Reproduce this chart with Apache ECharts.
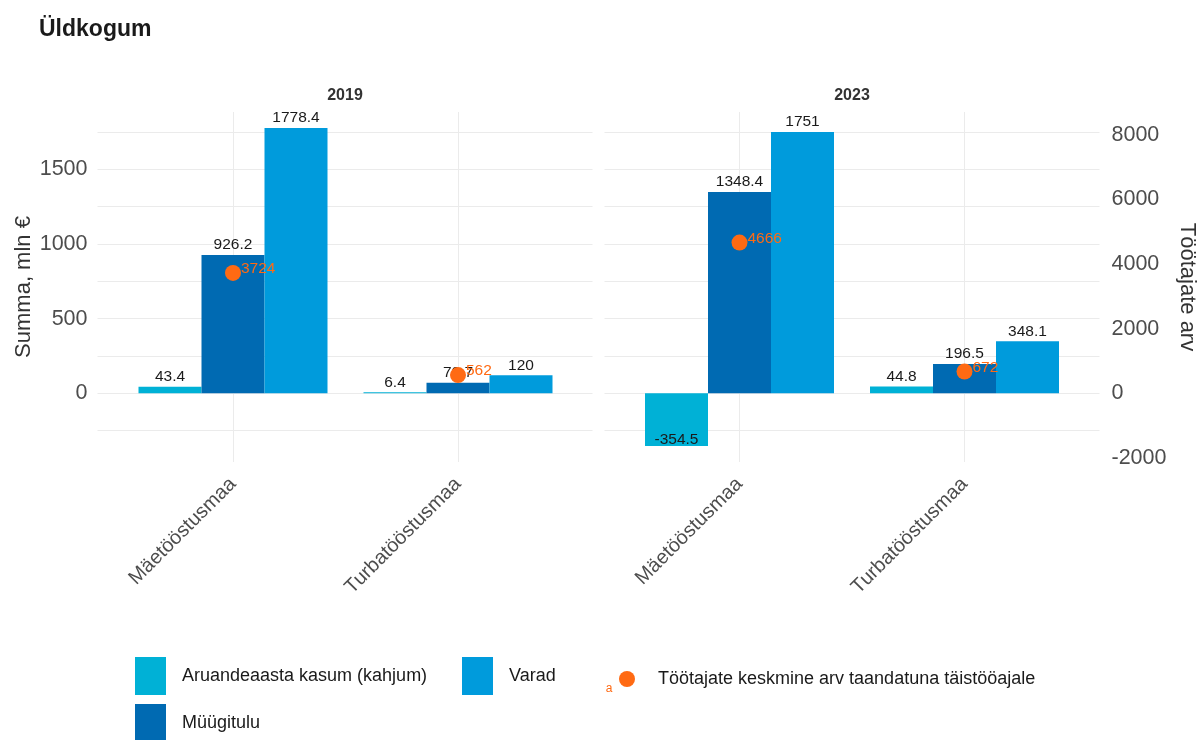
<!DOCTYPE html>
<html><head><meta charset="utf-8">
<script src="https://cdn.jsdelivr.net/npm/echarts@6/dist/echarts.min.js"></script>
<style>html,body{margin:0;padding:0;background:#fff}#c{width:1200px;height:740px}</style>
</head><body><div id="c"></div>
<script>
const categories = ['Mäetööstusmaa', 'Turbatööstusmaa'];
const years = ['2019', '2023'];
const kasum2019 = [43.4, 6.4];
const myygitulu2019 = [926.2, 70.7];
const varad2019 = [1778.4, 120];
const tootajad2019 = [3724, 562];
const kasum2023 = [-354.5, 44.8];
const myygitulu2023 = [1348.4, 196.5];
const varad2023 = [1751, 348.1];
const tootajad2023 = [4666, 672];
const leftTicks = [0, 500, 1000, 1500];
const rightTicks = [-2000, 0, 2000, 4000, 6000, 8000];
const gridValues = [-250, 0, 250, 500, 750, 1000, 1250, 1500, 1750];

const NAMES = ['Aruandeaasta kasum (kahjum)', 'Müügitulu', 'Varad', 'Töötajate keskmine arv taandatuna täistööajale'];
const COLORS = ['#00b1d6', '#006ab2', '#009bdc', '#ff6a13'];
const FONT = 'Liberation Sans, Arial, sans-serif';

const leftMin = -461.1, leftMax = 1885.05, factor = 4.62;
const rightMin = leftMin * factor, rightMax = leftMax * factor;

const yearData = [
  {kasum: kasum2019, myyk: myygitulu2019, varad: varad2019, tootajad: tootajad2019},
  {kasum: kasum2023, myyk: myygitulu2023, varad: varad2023, tootajad: tootajad2023}
];

const TOP = 112, H = 350;
const grids = [
  {left: 97.5, top: TOP, width: 495, height: H},    // background panel 2019
  {left: 604.5, top: TOP, width: 495, height: H},   // background panel 2023
  {left: 120.5, top: TOP, width: 450, height: H},   // data panel 2019
  {left: 627, top: TOP, width: 450, height: H}      // data panel 2023
];

const hiddenAxis = {axisLine: {show: false}, axisTick: {show: false}, splitLine: {show: false}, axisLabel: {show: false}};

const xAxes = [
  Object.assign({type: 'value', gridIndex: 0, min: 0, max: 1}, hiddenAxis),
  Object.assign({type: 'value', gridIndex: 1, min: 0, max: 1}, hiddenAxis),
  {type: 'category', gridIndex: 2, data: categories, axisLine: {show: false}, axisTick: {show: false}, splitLine: {show: false},
    axisLabel: {rotate: 45, interval: 0, fontSize: 20, color: '#4d4d4d', fontFamily: FONT, margin: 19}},
  {type: 'category', gridIndex: 3, data: categories, axisLine: {show: false}, axisTick: {show: false}, splitLine: {show: false},
    axisLabel: {rotate: 45, interval: 0, fontSize: 20, color: '#4d4d4d', fontFamily: FONT, margin: 19}}
];

const yAxes = [
  {type: 'value', gridIndex: 0, position: 'left', min: leftMin, max: leftMax,
    axisLine: {show: false}, axisTick: {show: false}, splitLine: {show: false},
    axisLabel: {fontSize: 21.5, color: '#4d4d4d', fontFamily: FONT, margin: 10,
      formatter: v => leftTicks.some(t => Math.abs(t - v) < 1e-6) ? String(Math.round(v)) : ''},
    name: 'Summa, mln €', nameLocation: 'middle', nameGap: 63, nameRotate: 90,
    nameTextStyle: {fontSize: 22, color: '#333', fontFamily: FONT}},
  Object.assign({type: 'value', gridIndex: 1, position: 'left', min: leftMin, max: leftMax}, hiddenAxis),
  {type: 'value', gridIndex: 1, position: 'right', min: rightMin, max: rightMax,
    axisLine: {show: false}, axisTick: {show: false}, splitLine: {show: false},
    axisLabel: {fontSize: 21.5, color: '#4d4d4d', fontFamily: FONT, margin: 12,
      formatter: v => rightTicks.some(t => Math.abs(t - v) < 1e-6) ? String(Math.round(v)) : ''},
    name: 'Töötajate arv', nameLocation: 'middle', nameGap: 77, nameRotate: -90,
    nameTextStyle: {fontSize: 22, color: '#333', fontFamily: FONT}},
  Object.assign({type: 'value', gridIndex: 2, position: 'left', min: leftMin, max: leftMax}, hiddenAxis),
  Object.assign({type: 'value', gridIndex: 2, position: 'right', min: rightMin, max: rightMax}, hiddenAxis),
  Object.assign({type: 'value', gridIndex: 3, position: 'left', min: leftMin, max: leftMax}, hiddenAxis),
  Object.assign({type: 'value', gridIndex: 3, position: 'right', min: rightMin, max: rightMax}, hiddenAxis)
];

const gridLineStyle = {color: '#ebebeb', width: 1, type: 'solid'};
const mlBase = {silent: true, z: 1, symbol: ['none', 'none'], label: {show: false}, lineStyle: gridLineStyle, emphasis: {disabled: true}, animation: false};

const series = [];
[0, 1].forEach(i => {
  series.push({
    type: 'line', name: 'bg' + i, xAxisIndex: i, yAxisIndex: i, data: [], silent: true, z: 1,
    markLine: Object.assign({}, mlBase, {data: gridValues.map(v => ({yAxis: v}))})
  });
});

yearData.forEach((d, i) => {
  const xi = 2 + i, yl = 3 + i * 2, yr = 4 + i * 2;
  const barLabel = {show: true, position: 'top', distance: 2, fontSize: 15.5, color: '#1a1a1a', fontFamily: FONT};
  const mk = arr => arr.map(v => v < 0 ? {value: v, label: {position: 'insideBottom', distance: 0, offset: [0, 2]}} : v);
  const bars = [d.kasum, d.myyk, d.varad];
  bars.forEach((arr, k) => {
    series.push({
      type: 'bar', name: NAMES[k], xAxisIndex: xi, yAxisIndex: yl, data: mk(arr),
      itemStyle: {color: COLORS[k]}, label: barLabel, barGap: '0%', barCategoryGap: '16%', z: 2
    });
  });
  series.push({
    type: 'scatter', name: NAMES[3], xAxisIndex: xi, yAxisIndex: yr, data: d.tootajad,
    symbolSize: 16, z: 5, itemStyle: {color: COLORS[3], opacity: 1},
    label: {show: true, position: 'right', distance: 0, offset: [0, -4], fontSize: 15.5,
      color: COLORS[3], fontFamily: FONT, formatter: p => p.value},
    markLine: Object.assign({}, mlBase, {data: categories.map(c => ({xAxis: c}))})
  });
});

const legTxt = pad => ({fontSize: 18, color: '#1a1a1a', fontFamily: FONT, padding: [0, 0, 0, pad]});
const mkLegend = (name, left, top, w, h, icon, pad) => ({
  data: [name], left, top, itemWidth: w, itemHeight: h, icon, orient: 'horizontal',
  selectedMode: false, textStyle: legTxt(pad), padding: 0
});

const option = {
  animation: false,
  backgroundColor: '#fff',
  textStyle: {fontFamily: FONT},
  title: {text: 'Üldkogum', left: 39, top: 18, padding: 0,
    textStyle: {fontSize: 23, fontWeight: 'bold', color: '#1a1a1a', fontFamily: FONT}},
  grid: grids,
  xAxis: xAxes,
  yAxis: yAxes,
  series,
  legend: [
    mkLegend(NAMES[0], 135, 657, 31, 38, 'rect', 11),
    mkLegend(NAMES[2], 462, 657, 31, 38, 'rect', 11),
    mkLegend(NAMES[3], 619, 670, 16, 16, 'circle', 18),
    mkLegend(NAMES[1], 135, 704, 31, 38, 'rect', 11)
  ],
  graphic: [
    {type: 'text', x: 345, y: 96, style: {text: years[0], fontSize: 16, fontWeight: 'bold', fill: '#333', fontFamily: FONT, textAlign: 'center', textVerticalAlign: 'middle'}},
    {type: 'text', x: 852, y: 96, style: {text: years[1], fontSize: 16, fontWeight: 'bold', fill: '#333', fontFamily: FONT, textAlign: 'center', textVerticalAlign: 'middle'}},
    {type: 'text', x: 609, y: 689, style: {text: 'a', fontSize: 12, fill: COLORS[3], fontFamily: FONT, textAlign: 'center', textVerticalAlign: 'middle'}}
  ]
};
const chart = echarts.init(document.getElementById('c'), null, {renderer: 'canvas'});
chart.setOption(option);
</script></body></html>
